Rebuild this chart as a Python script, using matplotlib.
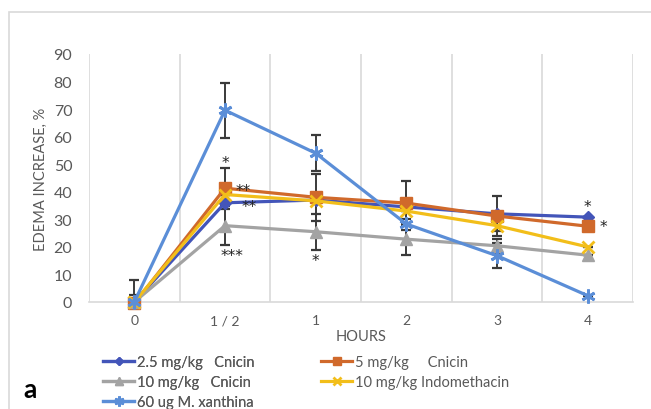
import matplotlib
matplotlib.use('Agg')
import matplotlib.pyplot as plt
from matplotlib.lines import Line2D
from matplotlib.patches import Rectangle
import numpy as np

plt.rcParams['font.family'] = ['Lato', 'DejaVu Sans']

# 数据
hours = ['0', '1 / 2', '1', '2', '3', '4']
names = ['2.5 mg/kg   Cnicin', '5 mg/kg     Cnicin', '10 mg/kg   Cnicin',
         '10 mg/kg Indomethacin', '60 ug M. xanthina']
cnicin_25 = [0, 36, 37, 34.5, 32, 30.8]
cnicin_5 = [-0.5, 41.3, 38, 35.9, 31.2, 27.5]
cnicin_10 = [0, 27.7, 25.5, 22.8, 20.4, 17]
indomethacin = [0, 39, 36.7, 33, 27.7, 20]
xanthina = [0, 69.6, 54, 28.3, 16.8, 2.3]

err_25 = [8, 0, 0, 0, 0, 0]
err_5 = [3, 7.5, 8.5, 8, 7.3, 0]
err_10 = [0, 7, 6.5, 5.6, 2.5, 0]
err_indo = [0, 0, 0, 0, 2, 0]
err_xan = [0, 10, 6.5, 2, 4.5, 0]

# 显著性标记 (类别位置, 数值, 文本)
stars = [(1.0, 50.5, '*'), (1.2, 40.5, '**'), (1.27, 34.6, '**'), (1.08, 17, '***'),
         (2.0, 15, '*'), (5.0, 34.5, '*'), (5.17, 27.3, '*')]

colors = ['#4355B9', '#D0692B', '#A3A3A3', '#F2BE1A', '#5B8ED7']
markers = ['D', 's', '^', 'x', (6, 2, 0)]
msizes = [6, 9, 9, 9, 10]

series = [cnicin_25, cnicin_5, cnicin_10, indomethacin, xanthina]
errors = [err_25, err_5, err_10, err_indo, err_xan]

fig = plt.figure(figsize=(6.51, 4.10), dpi=100)
ax = fig.add_axes([89 / 651, 1 - 303 / 410, (633 - 89) / 651, (303 - 55) / 410])

x = np.arange(len(hours))
handles = []
for vals, errs, c, m, ms, nm in zip(series, errors, colors, markers, msizes, names):
    ax.errorbar(x, vals, yerr=errs, fmt='none', ecolor='#3A3A3A', elinewidth=1.4,
                capsize=3.5, capthick=1.6, zorder=2)
    mew = 2 if m in ('x', (6, 2, 0)) else 1
    ax.plot(x, vals, color=c, linewidth=2.3, marker=m, markersize=ms,
            markeredgewidth=mew, markeredgecolor=c, markerfacecolor=c, zorder=3,
            clip_on=False)
    handles.append(Line2D([0], [0], color=c, linewidth=2.3, marker=m,
                          markersize=ms * 0.7, markeredgewidth=mew,
                          markeredgecolor=c, markerfacecolor=c, label=nm))

for sx, sy, st in stars:
    ax.text(sx, sy, st, ha='center', va='center', fontsize=11, color='#222222',
            family='DejaVu Sans')

ax.set_xlim(-0.5, len(hours) - 0.5)
ax.set_ylim(0, 90)
ax.set_yticks(range(0, 91, 10))
ax.set_xticks(x)
ax.set_xticklabels(hours)
ax.set_xticks(np.arange(-0.5, len(hours), 1), minor=True)
ax.grid(True, axis='x', which='minor', color='#D9D9D9', linewidth=1.2)
ax.tick_params(which='both', length=0)
ax.tick_params(axis='y', pad=12, labelsize=11.5, labelcolor='#595959')
ax.tick_params(axis='x', pad=9, labelsize=10, labelcolor='#595959')
for s in ['top', 'right', 'left']:
    ax.spines[s].set_visible(False)
ax.spines['bottom'].set_color('#D9D9D9')
ax.spines['bottom'].set_linewidth(1.2)

ax.set_xlabel('HOURS', fontsize=10.5, color='#595959', labelpad=2)
fig.text(41 / 651, 1 - 179 / 410, 'EDEMA INCREASE, %', rotation=90, ha='center',
         va='center', fontsize=10.5, color='#595959')

# 图例分两列
leg1 = fig.legend(handles=[handles[0], handles[2], handles[4]], loc='upper left',
                  bbox_to_anchor=(96 / 651, 1 - 349 / 410), frameon=False,
                  fontsize=10.5, handlelength=2.1, handletextpad=0.2,
                  labelspacing=0.4, borderpad=0, labelcolor='#595959')
leg2 = fig.legend(handles=[handles[1], handles[3]], loc='upper left',
                  bbox_to_anchor=(314 / 651, 1 - 349 / 410), frameon=False,
                  fontsize=10.5, handlelength=2.1, handletextpad=0.2,
                  labelspacing=0.4, borderpad=0, labelcolor='#595959')
fig.add_artist(leg1)

fig.text(30 / 651, 1 - 390 / 410, 'a', fontsize=19, fontweight='bold',
         ha='center', va='center', color='black')

# 外框
fig.add_artist(Rectangle((9 / 651, -0.05), 1.0, 1 - 13 / 410 + 0.05,
                         transform=fig.transFigure, fill=False,
                         edgecolor='#D9D9D9', linewidth=1.2))

plt.savefig('out.png', dpi=100)
plt.close()
